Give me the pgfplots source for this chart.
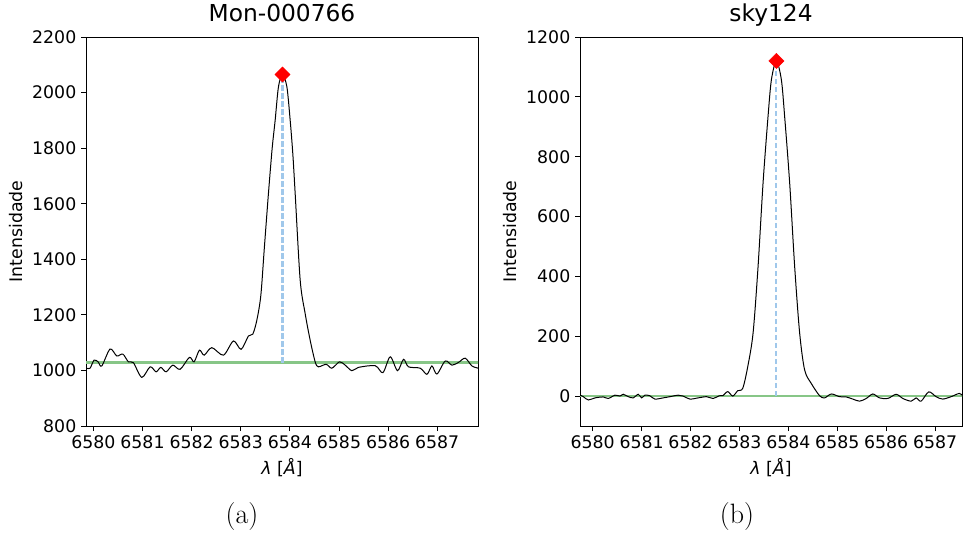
\documentclass[border=0pt]{standalone}
\usepackage{fontspec}
\newfontfamily\dv{DejaVu Sans}
\usepackage{pgfplots}
\pgfplotsset{compat=1.18}
\definecolor{bl}{RGB}{160,200,235}
\definecolor{gr}{RGB}{135,198,135}
\pgfplotsset{myax/.style={
  scale only axis, height=291.75pt, anchor=south west,
  tick align=outside, xtick pos=lower, ytick pos=left,
  major tick length=3.75pt, scaled ticks=false,
  /pgf/number format/1000 sep={}, /pgf/number format/assume math mode=true,
  tick label style={font=\dv\fontsize{13}{15}\selectfont},
  label style={font=\dv\fontsize{13}{15}\selectfont},
  title style={font=\dv\fontsize{17.5}{20}\selectfont, at={(0.5,1)}, anchor=base, yshift=5.5pt},
  xlabel={{\itshape λ} [{\itshape Å}]}, ylabel={Intensidade},
  axis line style={line width=0.6pt}, every tick/.style={black, line width=0.6pt},
  xtick={6580,6581,...,6587},
}}
\begin{document}
\begin{tikzpicture}
\begin{axis}[myax, at={(64.5pt,80.25pt)}, width=294pt,
  xmin=6579.85, xmax=6587.83, ymin=800, ymax=2200,
  ytick={800,1000,...,2200}, title={Mon-000766}]
\addplot[gr, line width=1.9pt] coordinates {(6579.5,1028) (6588.2,1028)};
\addplot[bl, line width=1.6pt, dash pattern=on 4pt off 2pt] coordinates {(6583.85,1028) (6583.85,2065)};
\addplot[only marks, mark=square*, mark size=4pt, red, mark options={rotate=45, draw=red, fill=red}] coordinates {(6583.85,2065)};
\addplot[black, line width=0.75pt, smooth] coordinates {
(6579.866,1008) (6579.933,1008) (6580.014,1037) (6580.096,1031) (6580.171,1016)
(6580.340,1077) (6580.477,1052) (6580.599,1059) (6580.713,1031) (6580.815,1028)
(6580.986,975) (6581.155,1013) (6581.277,995) (6581.373,1011) (6581.481,995)
(6581.617,1019) (6581.766,1004) (6581.955,1047) (6582.051,1031) (6582.159,1073)
(6582.255,1055) (6582.411,1082) (6582.648,1055) (6582.851,1106) (6583.008,1076)
(6583.157,1124) (6583.246,1131) (6583.328,1181) (6583.409,1270) (6583.480,1440)
(6583.564,1637) (6583.640,1800) (6583.701,1901) (6583.768,2021) (6583.849,2065)
(6583.939,2021) (6584.006,1901) (6584.060,1780) (6584.108,1637) (6584.210,1325)
(6584.310,1206) (6584.413,1109) (6584.515,1031) (6584.580,1013) (6584.739,1022)
(6584.855,1008) (6585.010,1031) (6585.126,1019) (6585.263,999) (6585.397,1011)
(6585.737,1017) (6585.894,992) (6586.043,1049) (6586.191,999) (6586.314,1040)
(6586.415,1013) (6586.654,1008) (6586.790,986) (6586.892,1016) (6586.994,987)
(6587.163,1034) (6587.299,1019) (6587.434,1029) (6587.570,1044) (6587.707,1016)
(6587.841,1008)};
\end{axis}
\begin{axis}[myax, at={(435pt,80.25pt)}, width=286.5pt,
  xmin=6579.74, xmax=6587.55, ymin=-100, ymax=1200,
  ytick={0,200,...,1200}, title={sky124}]
\addplot[gr, line width=1.9pt] coordinates {(6579.5,0) (6588.2,0)};
\addplot[bl, line width=1.6pt, dash pattern=on 4pt off 2pt] coordinates {(6583.755,0) (6583.755,1120)};
\addplot[only marks, mark=square*, mark size=4pt, red, mark options={rotate=45, draw=red, fill=red}] coordinates {(6583.755,1120)};
\addplot[black, line width=0.75pt, smooth] coordinates {
(6579.741,3) (6579.808,-2) (6579.910,-13) (6580.047,-6) (6580.216,-3) (6580.318,-8)
(6580.455,3) (6580.557,0) (6580.624,6) (6580.727,-2) (6580.829,-6) (6580.931,6)
(6581.000,-6) (6581.067,3) (6581.169,1) (6581.271,-10) (6581.441,-6) (6581.578,-2)
(6581.747,3) (6581.849,0) (6581.986,-10) (6582.155,-6) (6582.327,-2) (6582.461,-8)
(6582.584,1) (6582.665,2) (6582.761,15) (6582.863,0) (6582.965,18) (6583.067,26)
(6583.169,98) (6583.278,210) (6583.380,432) (6583.482,711) (6583.584,934)
(6583.653,1057) (6583.755,1120) (6583.857,1057) (6583.924,934) (6584.027,711)
(6584.129,432) (6584.231,210) (6584.333,87) (6584.469,42) (6584.639,1)
(6584.741,-6) (6584.878,7) (6585.047,-2) (6585.184,-3) (6585.318,-10) (6585.455,-17)
(6585.592,-8) (6585.727,7) (6585.863,-6) (6586.033,-8) (6586.204,6) (6586.339,-8)
(6586.510,-17) (6586.612,-6) (6586.714,-17) (6586.869,14) (6587.020,-2)
(6587.155,-10) (6587.327,-2) (6587.496,9) (6587.563,1)};
\end{axis}
\node[font=\fontsize{21}{24}\selectfont] at (181.5pt,12pt) {(a)};
\node[font=\fontsize{21}{24}\selectfont] at (552.75pt,12pt) {(b)};
\pgfresetboundingbox
\useasboundingbox (0,0) rectangle (722.25pt,399.75pt);
\end{tikzpicture}
\end{document}
